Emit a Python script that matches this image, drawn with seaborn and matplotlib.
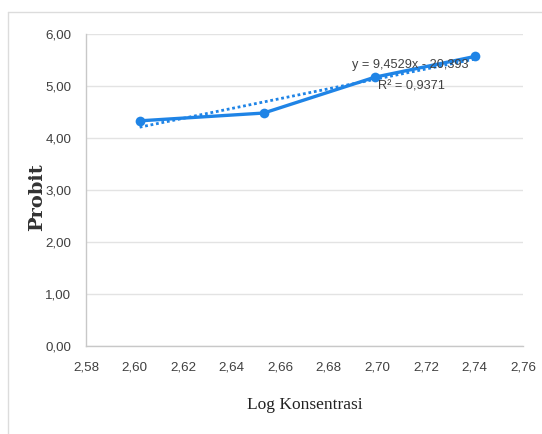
import matplotlib
matplotlib.use("Agg")
import matplotlib.pyplot as plt
import seaborn as sns
import pandas as pd
from matplotlib.lines import Line2D

# ---- data ----
log_konsentrasi = [2.6021, 2.6532, 2.6990, 2.7404]
probit = [4.33, 4.48, 5.17, 5.57]
x_ticks = [2.58, 2.60, 2.62, 2.64, 2.66, 2.68, 2.70, 2.72, 2.74, 2.76]
y_ticks = [0, 1, 2, 3, 4, 5, 6]
equation_text = "y = 9,4529x - 20,393"
r2_text = "R² = 0,9371"

df = pd.DataFrame({"x": log_konsentrasi, "y": probit})

sns.set_style("white")
plt.rcParams["font.family"] = ["Liberation Sans", "DejaVu Sans"]

BLUE = "#1f84e6"
GRID = "#e3e3e3"
AXC = "#c8c8c8"

fig = plt.figure(figsize=(5.42, 4.34), dpi=100)
ax = fig.add_axes([86/542, 1-346/434, (523-86)/542, (346-34)/434])

sns.regplot(data=df, x="x", y="y", ax=ax, scatter=False, ci=None, truncate=True,
            line_kws=dict(color=BLUE, lw=2.0, dashes=(1.0, 1.0), zorder=3))
sns.lineplot(data=df, x="x", y="y", ax=ax, color=BLUE, lw=2.4, marker="o",
             markersize=7, markeredgewidth=0, zorder=4)

ax.set_xlim(x_ticks[0], x_ticks[-1])
ax.set_ylim(y_ticks[0], y_ticks[-1])
ax.set_xticks(x_ticks)
ax.set_yticks(y_ticks)
ax.set_xticklabels([f"{t:.2f}".replace(".", ",") for t in x_ticks])
ax.set_yticklabels([f"{t:.2f}".replace(".", ",") for t in y_ticks])

ax.yaxis.grid(True, color=GRID, lw=1.0)
ax.xaxis.grid(False)
ax.set_axisbelow(True)
for s in ["top", "right"]:
    ax.spines[s].set_visible(False)
for s in ["left", "bottom"]:
    ax.spines[s].set_color(AXC)
    ax.spines[s].set_linewidth(1.0)
ax.tick_params(axis="both", which="major", length=3.5, width=1.0, color=AXC,
               labelsize=9.6, labelcolor="#404040")
ax.tick_params(axis="x", pad=8)
ax.tick_params(axis="y", pad=7)

ax.set_xlabel("Log Konsentrasi", family=["Liberation Serif", "DejaVu Serif"],
              fontsize=12.5, color="#222222", va="center")
ax.set_ylabel("Probit", family=["DejaVu Serif"], fontweight="bold",
              fontsize=14, color="#333333", va="center")
ax.xaxis.set_label_coords(0.501, -0.189)
ax.yaxis.set_label_coords(-0.112, 0.476)

ax.text(2.7135, 5.40, equation_text, ha="center", va="center", fontsize=9.2,
        color="#404040", zorder=5)
ax.text(2.7139, 4.99, r2_text, ha="center", va="center", fontsize=9.2,
        color="#404040", zorder=5)

# chart-area frame (partially visible)
fig.add_artist(Line2D([8/542, 8/542], [0, 1-12/434], transform=fig.transFigure,
                      color="#dcdcdc", lw=1.0))
fig.add_artist(Line2D([8/542, 1], [1-12/434, 1-12/434], transform=fig.transFigure,
                      color="#dcdcdc", lw=1.0))

fig.savefig("out.png", dpi=100)
